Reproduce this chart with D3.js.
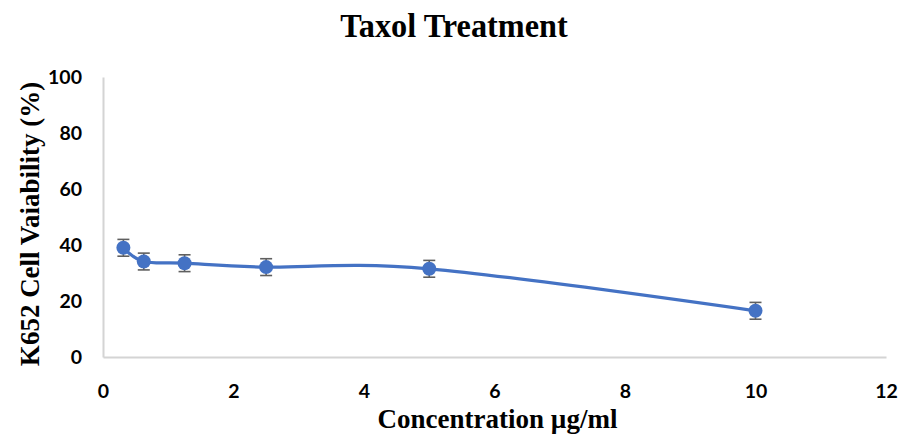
<!DOCTYPE html>
<html>
<head>
<meta charset="utf-8">
<script src="https://cdn.jsdelivr.net/npm/d3@7"></script>
<style>
  html, body { margin: 0; padding: 0; background: #fff; }
  svg { display: block; }
</style>
</head>
<body>
<svg id="chart" width="907" height="440"></svg>
<script>
// Taxol dose-response on K652 cells
const concentrations = [0.3125, 0.625, 1.25, 2.5, 5, 10];
const viability = [39, 34.1, 33.5, 32.1, 31.5, 16.5];
const errors = [3, 3, 3, 3, 3, 3];
const xTicks = [0, 2, 4, 6, 8, 10, 12];
const yTicks = [0, 20, 40, 60, 80, 100];

const svg = d3.select("#chart");
const margin = { left: 103, right: 21, top: 77, bottom: 83 };
const W = 907, H = 440;

const x = d3.scaleLinear().domain([0, 12]).range([margin.left, W - margin.right]);
const y = d3.scaleLinear().domain([0, 100]).range([H - margin.bottom, margin.top]);

const tickFont = "Lato, 'Open Sans', sans-serif";
const serif = "'Liberation Serif', 'Times New Roman', serif";

// Axes
const xAxis = svg.append("g")
  .attr("transform", `translate(0,${y(0)})`)
  .call(d3.axisBottom(x).tickValues(xTicks).tickSize(0).tickPadding(27));
const yAxis = svg.append("g")
  .attr("transform", `translate(${x(0)},0)`)
  .call(d3.axisLeft(y).tickValues(yTicks).tickSize(0).tickPadding(21));

[xAxis, yAxis].forEach(g => {
  g.select(".domain").attr("stroke", "#d4d4d4").attr("stroke-width", 2);
  g.selectAll("text")
    .attr("fill", "#000")
    .style("font-family", tickFont)
    .style("font-weight", "bold")
    .style("font-size", "19.5px");
});
yAxis.selectAll("text").attr("dy", "0.35em");

// Smoothed series line
const pts = concentrations.map((c, i) => [c, viability[i], errors[i]]);
svg.append("path")
  .datum(pts)
  .attr("fill", "none")
  .attr("stroke", "#4472C4")
  .attr("stroke-width", 3.2)
  .attr("stroke-linecap", "round")
  .attr("d", d3.line().x(d => x(d[0])).y(d => y(d[1])).curve(d3.curveCardinal.tension(0)));

// Error bars
const eb = svg.append("g").attr("stroke", "#5f5f5f").attr("stroke-width", 1.6);
pts.forEach(d => {
  const cx = x(d[0]);
  eb.append("line").attr("x1", cx).attr("x2", cx).attr("y1", y(d[1] - d[2])).attr("y2", y(d[1] + d[2]));
  eb.append("line").attr("x1", cx - 6).attr("x2", cx + 6).attr("y1", y(d[1] + d[2])).attr("y2", y(d[1] + d[2]));
  eb.append("line").attr("x1", cx - 6).attr("x2", cx + 6).attr("y1", y(d[1] - d[2])).attr("y2", y(d[1] - d[2]));
});

// Markers
svg.append("g").selectAll("circle")
  .data(pts)
  .join("circle")
  .attr("cx", d => x(d[0]))
  .attr("cy", d => y(d[1]))
  .attr("r", 7)
  .attr("fill", "#4472C4");

// Titles
svg.append("text")
  .attr("transform", "translate(454,36.7) scale(0.95,1)")
  .attr("text-anchor", "middle")
  .style("font-family", serif).style("font-weight", "bold").style("font-size", "34px")
  .text("Taxol Treatment");

svg.append("text")
  .attr("x", 497.5).attr("y", 428.3)
  .attr("text-anchor", "middle")
  .style("font-family", serif).style("font-weight", "bold").style("font-size", "27px")
  .text("Concentration µg/ml");

svg.append("text")
  .attr("transform", "translate(39,224) rotate(-90)")
  .attr("text-anchor", "middle")
  .style("font-family", serif).style("font-weight", "bold").style("font-size", "27px")
  .text("K652 Cell Vaiability (%)");
</script>
</body>
</html>
